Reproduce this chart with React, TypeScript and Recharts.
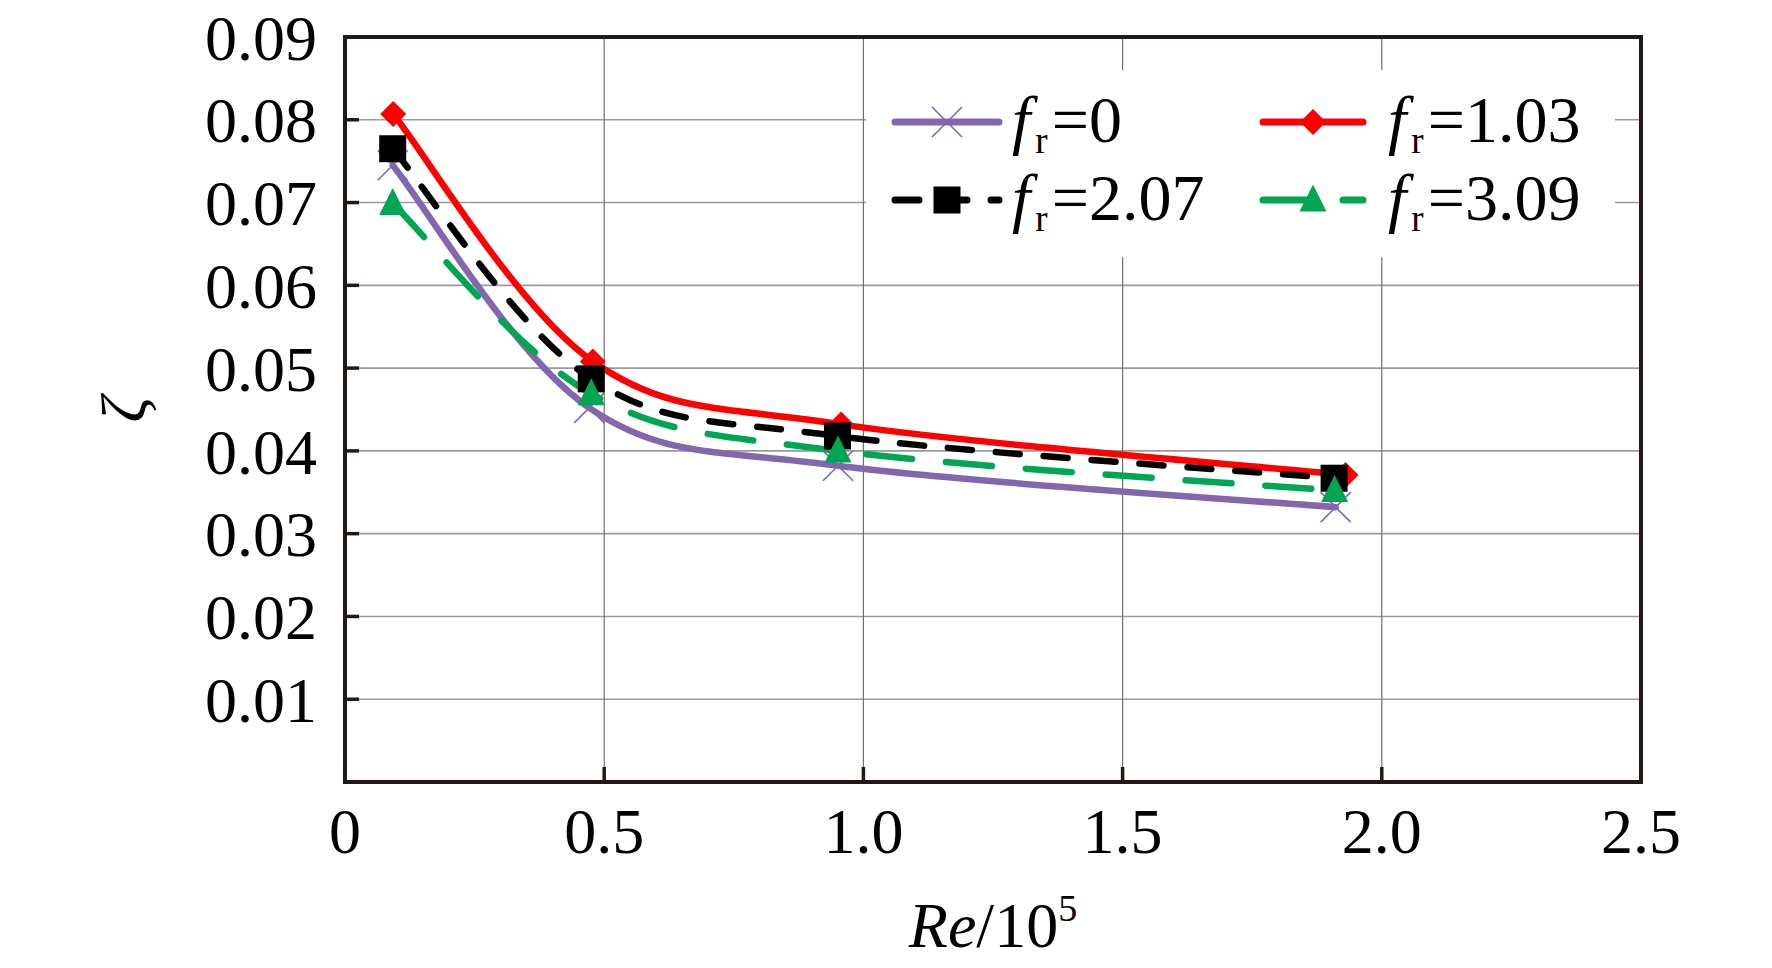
import React from 'react'
import { LineChart, Line, XAxis, YAxis, CartesianGrid, Legend, ReferenceArea, Label } from 'recharts'

// Re/10^5 and zeta, one pair of arrays per f_r series
const reFr0 = [0.092, 0.471, 0.951, 1.911]
const zetaFr0 = [0.0745, 0.0452, 0.0382, 0.0332]
const reFr103 = [0.093, 0.478, 0.957, 1.93]
const zetaFr103 = [0.0807, 0.0508, 0.0432, 0.0371]
const reFr207 = [0.092, 0.475, 0.95, 1.908]
const zetaFr207 = [0.0765, 0.0487, 0.0418, 0.0367]
const reFr309 = [0.092, 0.475, 0.951, 1.909]
const zetaFr309 = [0.0699, 0.0469, 0.04, 0.0352]

const xTicks = [0, 0.5, 1, 1.5, 2, 2.5]
const xTickLabels = ['0', '0.5', '1.0', '1.5', '2.0', '2.5']
const yTicks = [0.01, 0.02, 0.03, 0.04, 0.05, 0.06, 0.07, 0.08, 0.09]
const yTickLabels = ['0.01', '0.02', '0.03', '0.04', '0.05', '0.06', '0.07', '0.08', '0.09']

const FONT = '"Liberation Serif", "Times New Roman", serif'
const AXIS = '#231815'

type MarkerKind = 'cross' | 'diamond' | 'square' | 'triangle'

const series = [
  { key: 'fr0', value: '0', color: '#8266ae', dash: undefined, marker: 'cross' as MarkerKind, re: reFr0, zeta: zetaFr0 },
  { key: 'fr103', value: '1.03', color: '#ff0000', dash: undefined, marker: 'diamond' as MarkerKind, re: reFr103, zeta: zetaFr103 },
  { key: 'fr207', value: '2.07', color: '#000000', dash: '24 24', marker: 'square' as MarkerKind, re: reFr207, zeta: zetaFr207 },
  { key: 'fr309', value: '3.09', color: '#00a651', dash: '46 34', marker: 'triangle' as MarkerKind, re: reFr309, zeta: zetaFr309 },
]

const toPoints = (re: number[], zeta: number[]) => re.map((x, i) => ({ re: x, zeta: zeta[i] }))

// Excel style smoothed line (cardinal spline, 1/6 tangents)
function excelCurve(context: any) {
  let pts: [number, number][] = []
  return {
    areaStart() {},
    areaEnd() {},
    lineStart() {
      pts = []
    },
    point(x: number, y: number) {
      pts.push([+x, +y])
    },
    lineEnd() {
      if (!pts.length) return
      context.moveTo(pts[0][0], pts[0][1])
      for (let i = 0; i < pts.length - 1; i++) {
        const p0 = pts[i - 1] || pts[i]
        const p1 = pts[i]
        const p2 = pts[i + 1]
        const p3 = pts[i + 2] || p2
        context.bezierCurveTo(
          p1[0] + (p2[0] - p0[0]) / 6,
          p1[1] + (p2[1] - p0[1]) / 6,
          p2[0] - (p3[0] - p1[0]) / 6,
          p2[1] - (p3[1] - p1[1]) / 6,
          p2[0],
          p2[1]
        )
      }
    },
  }
}

function marker(kind: MarkerKind, color: string, cx: number, cy: number, key?: string) {
  if (kind === 'cross') {
    const r = 15
    return (
      <g key={key}>
        <line x1={cx - r} y1={cy - r} x2={cx + r} y2={cy + r} stroke={color} strokeWidth={1.6} />
        <line x1={cx - r} y1={cy + r} x2={cx + r} y2={cy - r} stroke={color} strokeWidth={1.6} />
      </g>
    )
  }
  if (kind === 'diamond') {
    const r = 13
    return <path key={key} d={`M${cx},${cy - r}L${cx + r},${cy}L${cx},${cy + r}L${cx - r},${cy}Z`} fill={color} />
  }
  if (kind === 'square') {
    const r = 13.5
    return <rect key={key} x={cx - r} y={cy - r} width={2 * r} height={2 * r} fill={color} />
  }
  const r = 13.5
  return <path key={key} d={`M${cx},${cy - r - 2}L${cx + r},${cy + r - 2}L${cx - r},${cy + r - 2}Z`} fill={color} />
}

const renderLegend = () => {
  const cols = [
    { lineX1: 29, lineX2: 133, textX: 146 },
    { lineX1: 397, lineX2: 497, textX: 522 },
  ]
  const rows = [52, 130]
  return (
    <svg width={749} height={187} style={{ display: 'block', background: '#fff' }}>
      {series.map((s, i) => {
        const c = cols[i % 2]
        const y = rows[Math.floor(i / 2)]
        const mid = (c.lineX1 + c.lineX2) / 2
        return (
          <g key={s.key}>
            <line
              x1={c.lineX1}
              y1={y}
              x2={c.lineX2}
              y2={y}
              stroke={s.color}
              strokeWidth={7}
              strokeLinecap="round"
              strokeDasharray={s.dash}
            />
            {marker(s.marker, s.color, mid, y)}
            <text x={c.textX} y={y + 20} fontFamily={FONT} fontSize={66} fill="#000">
              <tspan fontStyle="italic">f</tspan>
              <tspan fontSize={37} dx={5} dy={11}>r</tspan>
              <tspan dx={4} dy={-11}>={s.value}</tspan>
            </text>
          </g>
        )
      })}
    </svg>
  )
}

const renderZeta = (props: any) => {
  const vb = props.viewBox
  const cx = vb.x + 28
  const cy = vb.y + vb.height / 2
  return (
    <text
      x={cx}
      y={cy}
      transform={`rotate(-90 ${cx} ${cy})`}
      textAnchor="middle"
      dominantBaseline="central"
      fontFamily={FONT}
      fontStyle="italic"
      fontSize={64}
      fill="#000"
    >
      ζ
    </text>
  )
}

const renderRe = (props: any) => {
  const vb = props.viewBox
  return (
    <text x={vb.x + vb.width / 2} y={vb.y + 165} textAnchor="middle" fontFamily={FONT} fontSize={64} fill="#000">
      <tspan fontStyle="italic">Re</tspan>
      <tspan>/10</tspan>
      <tspan fontSize={38} dy={-26}>5</tspan>
    </text>
  )
}

export default function App() {
  return (
    <div style={{ position: 'absolute', left: 0, top: 0, width: 1772, height: 968, background: '#fff' }}>
      <LineChart width={1772} height={968} margin={{ top: 37, right: 131, bottom: 86, left: 95 }}>
        <CartesianGrid horizontal vertical={false} stroke="#9a9a9a" strokeWidth={1.6} />
        <CartesianGrid horizontal={false} vertical stroke="#707070" strokeWidth={1.2} />
        <ReferenceArea x1={0} x2={2.5} y1={0} y2={0.09} fill="none" stroke={AXIS} strokeWidth={4} ifOverflow="visible" />
        <XAxis
          dataKey="re"
          type="number"
          domain={[0, 2.5]}
          ticks={xTicks}
          interval={0}
          allowDataOverflow
          height={100}
          axisLine={{ stroke: AXIS, strokeWidth: 4 }}
          tickLine={{ stroke: AXIS, strokeWidth: 3.5 }}
          tickSize={-15}
          tickMargin={41}
          tickFormatter={(v: number) => xTickLabels[xTicks.indexOf(v)]}
          tick={{ fill: '#000', fontSize: 64, fontFamily: FONT }}
        >
          <Label content={renderRe} />
        </XAxis>
        <YAxis
          type="number"
          domain={[0, 0.09]}
          ticks={yTicks}
          interval={0}
          allowDataOverflow
          width={250}
          axisLine={{ stroke: AXIS, strokeWidth: 4 }}
          tickLine={{ stroke: AXIS, strokeWidth: 3.5 }}
          tickSize={-14}
          tickMargin={42}
          tickFormatter={(v: number) => yTickLabels[yTicks.indexOf(v)]}
          tick={{ fill: '#000', fontSize: 64, fontFamily: FONT }}
        >
          <Label content={renderZeta} />
        </YAxis>
        <Legend
          layout="horizontal"
          verticalAlign="middle"
          align="center"
          content={renderLegend}
          wrapperStyle={{ position: 'absolute', left: 866, top: 70, width: 749, height: 187 }}
        />
        {series.map((s) => (
          <Line
            key={s.key}
            data={toPoints(s.re, s.zeta)}
            dataKey="zeta"
            name={s.key}
            type={excelCurve as any}
            stroke={s.color}
            strokeWidth={6.5}
            strokeLinecap="round"
            strokeDasharray={s.dash}
            dot={(p: any) => marker(s.marker, s.color, p.cx, p.cy, `${s.key}-${p.index}`)}
            activeDot={false}
            isAnimationActive={false}
          />
        ))}
      </LineChart>
    </div>
  )
}
